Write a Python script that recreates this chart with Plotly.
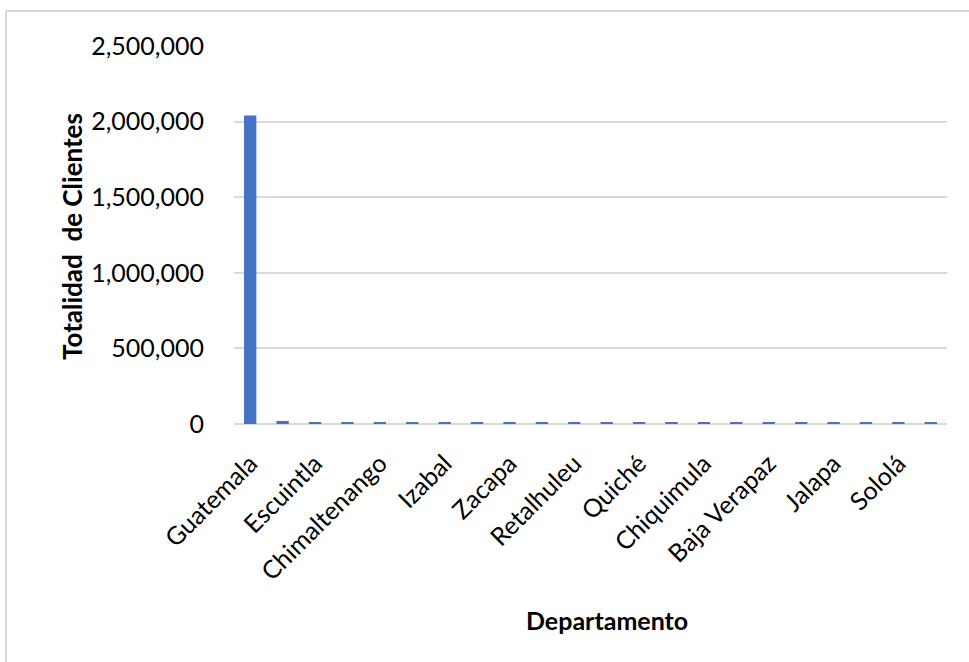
import plotly.graph_objects as go

departamentos = [
    "Guatemala", "Sacatepéquez", "Escuintla", "Quetzaltenango", "Chimaltenango",
    "Alta Verapaz", "Izabal", "Petén", "Zacapa", "Suchitepéquez", "Retalhuleu",
    "Huehuetenango", "Quiché", "San Marcos", "Chiquimula", "Santa Rosa",
    "Baja Verapaz", "Jutiapa", "Jalapa", "El Progreso", "Sololá", "Totonicapán",
]
clientes = [
    2040000, 20000, 8000, 7900, 7800, 7800, 7700, 7700, 7600, 7600, 7500,
    7500, 7400, 7400, 7300, 7300, 7200, 7200, 7100, 7100, 7000, 7000,
]
etiquetas = departamentos[::2]
y_ticks = [0, 500000, 1000000, 1500000, 2000000, 2500000]

W, H = 969, 662
L, R, T, B = 234, 947, 46, 424

def px(x):
    return (x - L) / (R - L)

def py(y):
    return (B - y) / (B - T)

fig = go.Figure(go.Bar(
    x=departamentos, y=clientes,
    marker=dict(color="#4472C4", line=dict(width=0)),
))

fig.update_layout(
    width=W, height=H,
    margin=dict(l=L, r=W - R, t=T, b=H - B, pad=0, autoexpand=False),
    paper_bgcolor="white", plot_bgcolor="white",
    font=dict(family="Lato", color="#000000"),
    bargap=0.62,
    showlegend=False,
    xaxis=dict(
        type="category",
        tickmode="array", tickvals=etiquetas, ticktext=etiquetas,
        tickangle=-45, tickfont=dict(size=25, color="#000000"),
        showgrid=False, showline=False,
        ticks="outside", ticklen=14, tickcolor="rgba(0,0,0,0)",
        zeroline=False, automargin=False,
    ),
    yaxis=dict(
        range=[0, 2500000],
        tickvals=y_ticks, tickformat=",d",
        tickfont=dict(size=25, color="#000000"),
        showgrid=True, gridcolor="#d9d9d9", gridwidth=2,
        zeroline=True, zerolinecolor="#d9d9d9", zerolinewidth=2,
        showline=False, ticks="outside", ticklen=24, tickcolor="rgba(0,0,0,0)",
        automargin=False,
    ),
    annotations=[
        dict(text="<b>Totalidad  de Clientes</b>", xref="paper", yref="paper",
             x=px(72), y=py(237), textangle=-90, showarrow=False,
             font=dict(size=26, color="#000000"), xanchor="center", yanchor="middle"),
        dict(text="<b>Departamento</b>", xref="paper", yref="paper",
             x=px(607), y=py(620), showarrow=False,
             font=dict(size=25, color="#000000"), xanchor="center", yanchor="middle"),
    ],
    shapes=[
        dict(type="line", xref="paper", yref="paper", x0=px(6), x1=px(975),
             y0=py(11), y1=py(11), line=dict(color="#d9d9d9", width=2)),
        dict(type="line", xref="paper", yref="paper", x0=px(6), x1=px(6),
             y0=py(11), y1=py(670), line=dict(color="#d9d9d9", width=2)),
    ],
)

fig.write_html(
    "out.html",
    config={"displayModeBar": False},
    post_script="document.body.style.margin='0';document.body.style.padding='0';",
)
